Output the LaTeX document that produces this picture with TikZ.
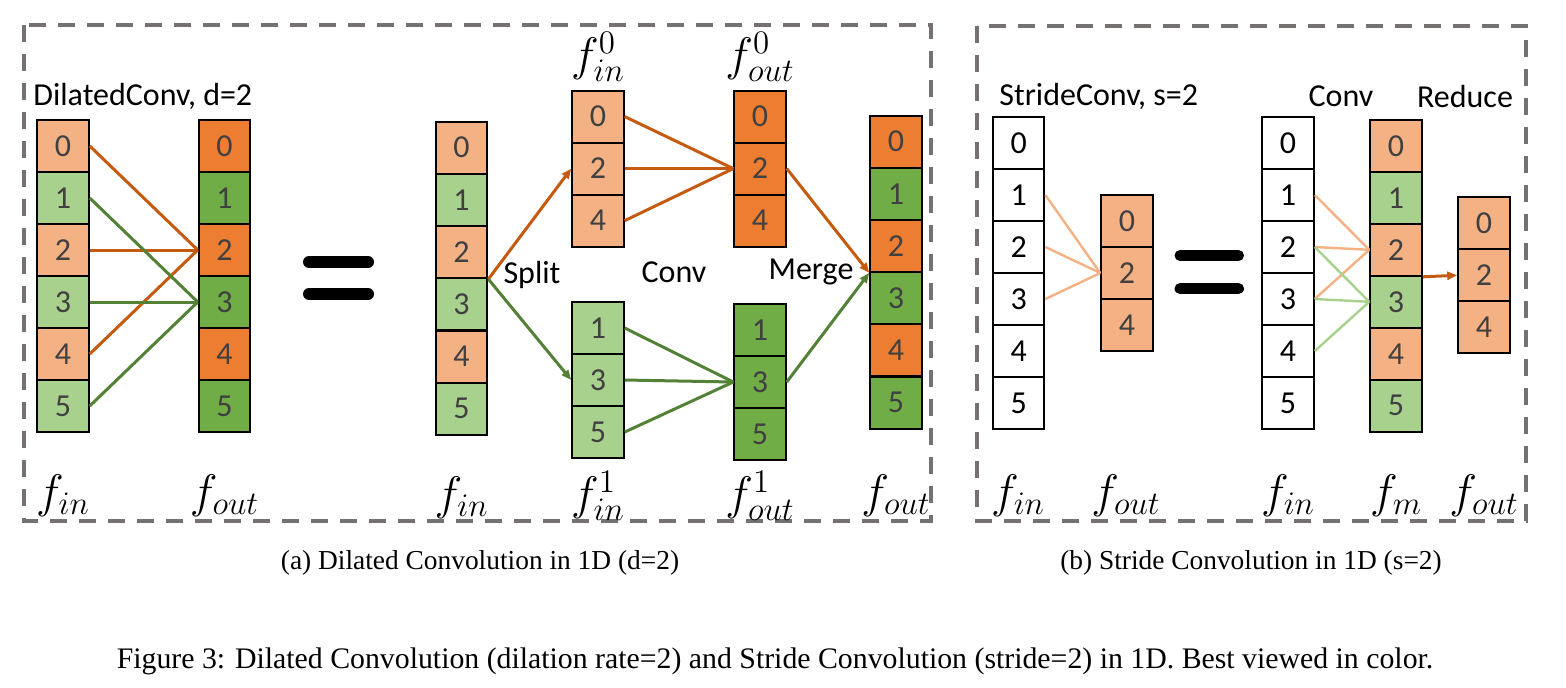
\RequirePackage{fix-cm}
\documentclass[tikz,border=0pt]{standalone}
\usepackage{fontspec}
\setmainfont{Liberation Serif}
\newfontfamily\calibri{Carlito}
\usetikzlibrary{arrows.meta}
\definecolor{peach}{HTML}{F4B183}
\definecolor{rust}{HTML}{ED7D31}
\definecolor{mint}{HTML}{A9D18E}
\definecolor{leaf}{HTML}{70AD47}
\definecolor{rustdark}{HTML}{C55A11}
\definecolor{leafdark}{HTML}{538135}
\definecolor{framegray}{HTML}{767171}
\definecolor{digit}{HTML}{404040}
\begin{document}
\begin{tikzpicture}[x=0.5pt,y=-0.5pt,>={Triangle[length=5pt,width=4pt]},
	cell/.style={draw,line width=1pt,minimum width=25.75pt,minimum height=26pt,inner sep=0pt,text=digit,font=\calibri\fontsize{16}{18}\selectfont},
	word/.style={inner sep=0pt,font=\calibri\fontsize{16}{18}\selectfont},
	flabel/.style={inner sep=0pt,font=\fontsize{23.5}{27}\selectfont},
	caption/.style={inner sep=0pt,font=\fontsize{13.7}{16}\selectfont},
	frame/.style={draw=framegray,line width=2pt,dash pattern=on 8.5pt off 6pt},
	rustline/.style={draw=rustdark,fill=rustdark,line width=1.5pt},
	leafline/.style={draw=leafdark,fill=leafdark,line width=1.5pt},
	peachline/.style={draw=peach,line width=1.2pt},
	mintline/.style={draw=mint,line width=1.2pt}]
	\useasboundingbox (0,0) rectangle (1566,687);
	\draw[frame] (24,25) rectangle (931,521);
	\draw[frame] (977,26) rectangle (1526,521);
	\foreach \i/\c/\d in {0/peach/rust,1/mint/leaf,2/peach/rust,3/mint/leaf,4/peach/rust,5/mint/leaf}{
		\node[cell,fill=\c] (ai_\i) at (63,{120+52*(\i+.5)}) {\i};
		\node[cell,fill=\d] (ao_\i) at (224.5,{120+52*(\i+.5)}) {\i};
		\node[cell,fill=\c] (si_\i) at (461.6,{121.6+52.2*(\i+.5)}) {\i};
		\node[cell,fill=\d] (mo_\i) at (896,{115.4+52.2*(\i+.5)}) {\i};
		\node[cell,fill=white,text=black] (bi_\i) at (1018.6,{117+52*(\i+.5)}) {\i};
		\node[cell,fill=white,text=black] (ci_\i) at (1288,{117+52*(\i+.5)}) {\i};
		\node[cell,fill=\c] (cm_\i) at (1396,{119.8+52*(\i+.5)}) {\i};
	}
	\foreach \i/\k in {0/0,2/1,4/2}{
		\node[cell,fill=peach] (e_\i) at (598,{90.6+52*(\k+.5)}) {\i};
		\node[cell,fill=rust] (eo_\i) at (760,{90.6+52*(\k+.5)}) {\i};
		\node[cell,fill=peach] (bo_\i) at (1127,{195+52*(\k+.5)}) {\i};
		\node[cell,fill=peach] (co_\i) at (1484,{197.3+52*(\k+.5)}) {\i};
	}
	\foreach \i/\k in {1/0,3/1,5/2}{
		\node[cell,fill=mint] (o_\i) at (598,{302+52*(\k+.5)}) {\i};
		\node[cell,fill=leaf] (oo_\i) at (760,{304+52*(\k+.5)}) {\i};
	}
	\foreach \i in {0,2,4} \draw[rustline] (ai_\i.east) -- (ao_2.west);
	\foreach \i in {1,3,5} \draw[leafline] (ai_\i.east) -- (ao_3.west);
	\draw[line width=6pt,line cap=round] (309,262) -- (368,262) (309,294) -- (368,294);
	\draw[->,rustline] (si_2.south east) -- (e_2.west);
	\draw[->,leafline] (si_2.south east) -- (o_3.west);
	\foreach \i in {0,2,4} \draw[rustline] (e_\i.east) -- (eo_2.west);
	\foreach \i in {1,3,5} \draw[leafline] (o_\i.east) -- (oo_3.west);
	\draw[->,rustline] (eo_2.east) -- (mo_2.south west);
	\draw[->,leafline] (oo_3.east) -- (mo_2.south west);
	\foreach \i in {1,2,3} \draw[peachline] (bi_\i.east) -- (bo_2.west);
	\draw[line width=5.5pt,line cap=round] (1180,255.5) -- (1238.5,255.5) (1180,288.6) -- (1238.5,288.6);
	\foreach \i in {1,2,3} \draw[peachline] (ci_\i.east) -- (cm_2.west);
	\foreach \i in {2,3,4} \draw[mintline] (ci_\i.east) -- (cm_3.west);
	\draw[->,rustline] (cm_2.south east) -- (co_2.west);
	\node[word,anchor=west] (dtitle) at (33,96) {DilatedConv, d=2};
	\node[word] (split) at (532,275) {Split};
	\node[word] (conv) at (674,272) {Conv};
	\node[word] (merge) at (811,272) {Merge};
	\node[word,anchor=west] (stitle) at (999,96) {StrideConv, s=2};
	\node[word] (sconv) at (1341,96) {Conv};
	\node[word] (reduce) at (1465,96) {Reduce};
	\node[flabel] (fa_in) at (63,496) {$f_{in}$};
	\node[flabel] (fa_out) at (224.5,496) {$f_{out}$};
	\node[flabel] (fs_in) at (461.6,498) {$f_{in}$};
	\node[flabel] (fe_in) at (598,57) {$f_{in}^0$};
	\node[flabel] (fe_out) at (760,57) {$f_{out}^0$};
	\node[flabel] (fo_in) at (598,496) {$f_{in}^1$};
	\node[flabel] (fo_out) at (760,496) {$f_{out}^1$};
	\node[flabel] (fm_out) at (896,496) {$f_{out}$};
	\node[flabel] (fb_in) at (1018,496) {$f_{in}$};
	\node[flabel] (fb_out) at (1126,496) {$f_{out}$};
	\node[flabel] (fc_in) at (1288,496) {$f_{in}$};
	\node[flabel] (fc_m) at (1396,496) {$f_m$};
	\node[flabel] (fc_out) at (1484,496) {$f_{out}$};
	\node[caption] (cap_a) at (480,563) {(a) Dilated Convolution in 1D (d=2)};
	\node[caption] (cap_b) at (1251,563) {(b) Stride Convolution in 1D (s=2)};
	\node[caption,font=\fontsize{14.9}{17}\selectfont] (cap_fig) at (775,661) {Figure 3: Dilated Convolution (dilation rate=2) and Stride Convolution (stride=2) in 1D. Best viewed in color.};
\end{tikzpicture}
\end{document}
